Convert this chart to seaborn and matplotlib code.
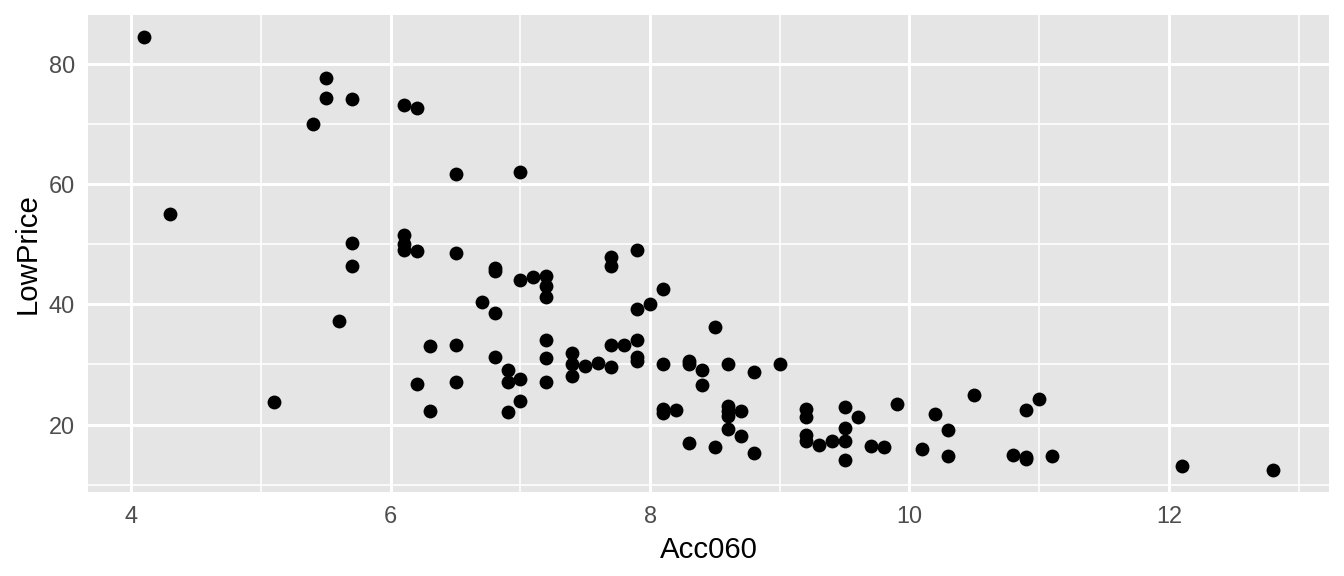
import matplotlib
matplotlib.use("Agg")
import matplotlib.pyplot as plt
import seaborn as sns
import pandas as pd
import numpy as np

acc060 = [4.1, 4.3, 5.1, 5.4, 5.5, 5.5, 5.6, 5.7, 5.7, 5.7,
          6.1, 6.1, 6.1, 6.1, 6.2, 6.2, 6.2, 6.3, 6.3,
          6.5, 6.5, 6.5, 6.5, 6.7, 6.8, 6.8, 6.8, 6.8,
          6.9, 6.9, 6.9, 7.0, 7.0, 7.0, 7.0, 7.1,
          7.2, 7.2, 7.2, 7.2, 7.2, 7.2, 7.4, 7.4, 7.4, 7.5, 7.6,
          7.7, 7.7, 7.7, 7.7, 7.8, 7.9, 7.9, 7.9, 7.9, 7.9, 8.0,
          8.1, 8.1, 8.1, 8.1, 8.2, 8.3, 8.3, 8.3, 8.4, 8.4, 8.5, 8.5,
          8.6, 8.6, 8.6, 8.6, 8.6, 8.7, 8.7, 8.8, 8.8, 9.0,
          9.2, 9.2, 9.2, 9.2, 9.3, 9.4, 9.5, 9.5, 9.5, 9.5, 9.6, 9.7, 9.8, 9.9,
          10.1, 10.2, 10.3, 10.3, 10.5, 10.8, 10.9, 10.9, 10.9, 11.0, 11.1, 12.1, 12.8]
low_price = [84.5, 55.1, 23.8, 70.0, 77.6, 74.3, 37.2, 74.2, 50.2, 46.3,
             73.1, 51.6, 50.1, 49.1, 72.7, 48.8, 26.8, 33.1, 22.2,
             61.7, 48.6, 33.3, 27.1, 40.4, 46.0, 45.5, 38.5, 31.3,
             29.1, 27.1, 22.1, 62.0, 44.1, 27.6, 24.0, 44.5,
             44.7, 43.0, 41.2, 34.1, 31.1, 27.1, 31.9, 30.1, 28.1, 29.7, 30.2,
             47.9, 46.4, 33.3, 29.6, 33.2, 49.1, 39.2, 34.1, 31.2, 30.6, 40.1,
             42.5, 30.1, 22.6, 21.9, 22.4, 30.5, 30.0, 17.0, 29.1, 26.6, 36.2, 16.3,
             30.1, 23.1, 22.3, 21.5, 19.3, 22.3, 18.1, 28.7, 15.2, 30.0,
             22.6, 21.3, 18.2, 17.3, 16.6, 17.2, 22.9, 19.4, 17.3, 14.1, 21.3, 16.5, 16.2, 23.5,
             15.9, 21.8, 19.1, 14.8, 25.0, 15.0, 22.4, 14.6, 14.2, 24.2, 14.8, 13.1, 12.4]

x_major = [4, 6, 8, 10, 12]
x_minor = [5, 7, 9, 11, 13]
y_major = [20, 40, 60, 80]
y_minor = [10, 30, 50, 70]

df = pd.DataFrame({"Acc060": acc060, "LowPrice": low_price})

sns.set_style("white")
plt.rcParams["font.family"] = ["Liberation Sans", "DejaVu Sans"]

fig = plt.figure(figsize=(7, 3), dpi=192)
ax = fig.add_axes([88/1344, 1 - 492/576, (1329-88)/1344, (492-15)/576])
ax.set_facecolor("#E5E5E5")

sns.scatterplot(data=df, x="Acc060", y="LowPrice", ax=ax, color="black",
                s=27, linewidth=0, zorder=3)

def expand(v):
    lo, hi = min(v), max(v)
    r = hi - lo
    return lo - 0.05 * r, hi + 0.05 * r

ax.set_xlim(*expand(acc060))
ax.set_ylim(*expand(low_price))

ax.set_xticks(x_major)
ax.set_xticks(x_minor, minor=True)
ax.set_yticks(y_major)
ax.set_yticks(y_minor, minor=True)
ax.set_xticklabels([str(v) for v in x_major])
ax.set_yticklabels([str(v) for v in y_major])

ax.grid(which="major", color="white", linewidth=1.1)
ax.grid(which="minor", color="white", linewidth=0.6)
ax.set_axisbelow(True)

for sp in ax.spines.values():
    sp.set_visible(False)

ax.tick_params(which="major", length=2.75, width=1.07, color="#333333",
               labelsize=8.8, labelcolor="#4D4D4D", pad=2.2)
ax.tick_params(which="minor", length=0)

ax.set_xlabel("Acc060", fontsize=11, color="black", labelpad=2.75)
ax.set_ylabel("LowPrice", fontsize=11, color="black", labelpad=2.75)

fig.savefig("out.png", dpi=192, facecolor="white")
